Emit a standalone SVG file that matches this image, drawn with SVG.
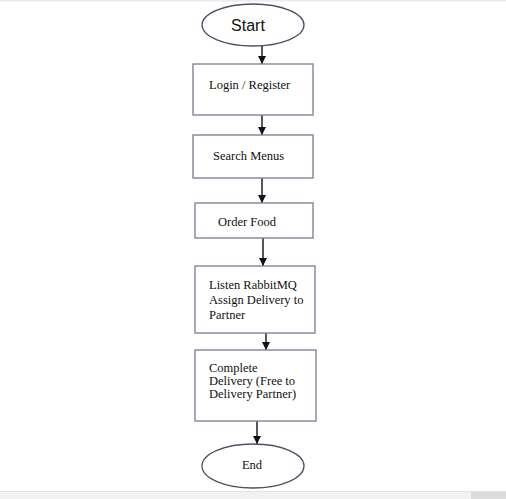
<svg xmlns="http://www.w3.org/2000/svg" width="506" height="499" viewBox="0 0 506 499">
<style>
.box{fill:#fff;stroke:#7d8796;stroke-width:1.4}
.oval{fill:#fff;stroke:#4a5263;stroke-width:1.3}
.t{font-family:"Liberation Serif","Times New Roman",serif;font-size:12.5px;fill:#111}
.s{font-family:"Liberation Sans",Arial,sans-serif;font-size:16px;fill:#111}
.c{stroke:#111;stroke-width:1.4;fill:none;marker-end:url(#ah)}
</style>
<defs>
<marker id="ah" viewBox="0 0 8 8" refX="8" refY="4" markerWidth="8" markerHeight="8" markerUnits="userSpaceOnUse" orient="auto">
<path d="M0,0 L8,4 L0,8 Z" fill="#111"/>
</marker>
</defs>
<rect x="0" y="0" width="506" height="499" fill="#fff"/>
<rect x="0" y="0" width="506" height="1.5" fill="#ececec"/>
<g id="connectors">
<line class="c" x1="262" y1="46" x2="262" y2="64"/>
<line class="c" x1="262" y1="115" x2="262" y2="135"/>
<line class="c" x1="262" y1="178" x2="262" y2="203"/>
<line class="c" x1="263" y1="238" x2="263" y2="266"/>
<line class="c" x1="266" y1="333" x2="266" y2="350"/>
<line class="c" x1="257" y1="421" x2="257" y2="444"/>
</g>
<g id="start">
<ellipse class="oval" cx="253" cy="25" rx="51" ry="21"/>
<text class="s" x="248" y="31" text-anchor="middle">Start</text>
</g>
<g id="login">
<rect class="box" x="193" y="64" width="120" height="51"/>
<text class="t" x="209" y="89">Login / Register</text>
</g>
<g id="search">
<rect class="box" x="193" y="135" width="120" height="43"/>
<text class="t" x="213" y="160">Search Menus</text>
</g>
<g id="order">
<rect class="box" x="195" y="203" width="118" height="35"/>
<text class="t" x="218" y="226">Order Food</text>
</g>
<g id="listen">
<rect class="box" x="195" y="266" width="120" height="67"/>
<text class="t" x="209" y="289">Listen RabbitMQ</text>
<text class="t" x="209" y="304">Assign Delivery to</text>
<text class="t" x="209" y="319">Partner</text>
</g>
<g id="complete">
<rect class="box" x="195" y="350" width="121" height="71"/>
<text class="t" x="209" y="372">Complete</text>
<text class="t" x="209" y="385">Delivery (Free to</text>
<text class="t" x="209" y="398">Delivery Partner)</text>
</g>
<g id="end">
<ellipse class="oval" cx="253" cy="466" rx="51" ry="22"/>
<text class="t" x="252" y="469" text-anchor="middle">End</text>
</g>
<rect x="0" y="491" width="506" height="8" fill="#f2f2f2"/>
<rect x="0" y="491" width="506" height="1" fill="#e2e2e2"/>
<rect x="471" y="492" width="35" height="7" fill="#dcdcdc"/>
</svg>
